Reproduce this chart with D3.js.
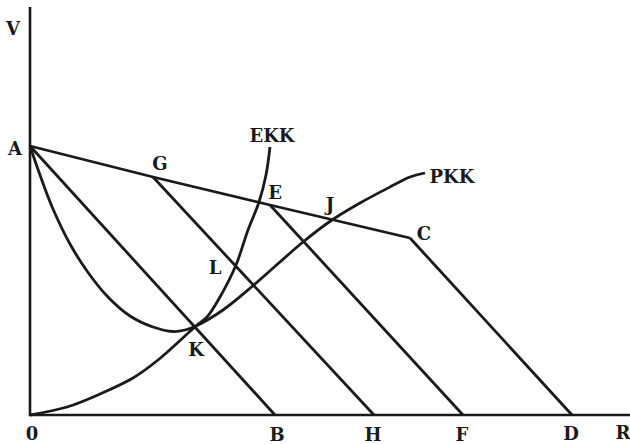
<!DOCTYPE html>
<html>
<head>
<meta charset="utf-8">
<script src="https://cdn.jsdelivr.net/npm/d3@7"></script>
<style>
  body { margin: 0; background: #fff; }
  .lbl { font-family: "DejaVu Serif", serif; font-weight: bold; font-size: 18px; fill: #1a1a1a; }
</style>
</head>
<body>
<div id="chart"></div>
<script>
const width = 630;
const height = 444;

// points, in axis units (R across, V up)
const budget = [[0, 26.9], [12.3, 23.8], [24.0, 21.0], [38.0, 17.7]]; // A G E C
const parallels = [
  [[0, 26.9], [24.5, 0]],    // A -> B
  [[12.3, 23.8], [34.4, 0]], // G -> H
  [[24.0, 21.0], [43.3, 0]], // E -> F
  [[38.0, 17.7], [54.2, 0]]  // C -> D
];
const ekk = [[0, 0], [3.7, 0.8], [7.0, 2.1], [10.3, 3.7], [12.8, 5.5], [16.6, 8.9], [17.7, 9.8],
  [19.0, 11.8], [20.6, 15.0], [21.8, 18.5], [22.9, 21.3], [23.6, 24.0], [24.0, 26.8]];
const pkk = [[0, 26.9], [1.0, 24.0], [2.3, 20.6], [4.0, 17.1], [5.7, 14.4], [7.7, 11.9], [10.0, 9.9],
  [12.3, 8.8], [14.3, 8.35], [15.5, 8.5], [16.6, 8.9], [19.3, 10.5], [22.5, 13.1], [27.3, 17.3],
  [30.2, 19.5], [33.0, 21.2], [36.0, 22.8], [38.0, 23.8], [39.5, 24.2]];

// label text and where it sits (axis units)
const labels = [
  ["V", -1.7, 38.7], ["A", -1.5, 26.7], ["G", 13.0, 25.2], ["EKK", 24.2, 28.0],
  ["E", 24.5, 22.3], ["J", 30.0, 21.1], ["C", 39.4, 18.2], ["PKK", 42.2, 23.9],
  ["L", 18.5, 14.8], ["K", 16.6, 6.6], ["0", 0.2, -1.8], ["B", 24.7, -1.9],
  ["H", 34.3, -1.9], ["F", 43.2, -1.9], ["D", 54.1, -1.8], ["R", 59.3, -1.7]
];

const x = d3.scaleLinear().domain([0, 60]).range([30, 630]);
const y = d3.scaleLinear().domain([0, 40.8]).range([415, 7]);

const svg = d3.select("#chart").append("svg")
  .attr("width", width)
  .attr("height", height);

const line = d3.line().x(d => x(d[0])).y(d => y(d[1]));
const curve = d3.line().x(d => x(d[0])).y(d => y(d[1])).curve(d3.curveCatmullRom.alpha(0.5));

// axes
svg.append("path")
  .attr("d", line([[0, 40.8], [0, 0], [60, 0]]))
  .attr("fill", "none")
  .attr("stroke", "#1a1a1a")
  .attr("stroke-width", 2.6);

svg.append("path")
  .attr("d", line(budget))
  .attr("fill", "none")
  .attr("stroke", "#1a1a1a")
  .attr("stroke-width", 2.8)
  .attr("stroke-linejoin", "miter");

svg.selectAll(".par")
  .data(parallels)
  .enter().append("path")
  .attr("class", "par")
  .attr("d", line)
  .attr("fill", "none")
  .attr("stroke", "#1a1a1a")
  .attr("stroke-width", 2.8);

svg.selectAll(".cv")
  .data([ekk, pkk])
  .enter().append("path")
  .attr("class", "cv")
  .attr("d", curve)
  .attr("fill", "none")
  .attr("stroke", "#1a1a1a")
  .attr("stroke-width", 2.8);

svg.selectAll(".lbl")
  .data(labels)
  .enter().append("text")
  .attr("class", "lbl")
  .attr("x", d => x(d[1]))
  .attr("y", d => y(d[2]))
  .attr("text-anchor", "middle")
  .attr("dominant-baseline", "central")
  .text(d => d[0]);
</script>
</body>
</html>
